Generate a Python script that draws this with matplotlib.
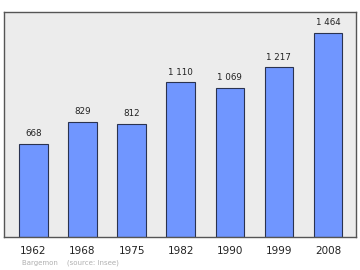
import matplotlib
matplotlib.use('Agg')
import matplotlib.pyplot as plt

years = ['1962', '1968', '1975', '1982', '1990', '1999', '2008']
population = [668, 829, 812, 1110, 1069, 1217, 1464]
value_labels = ['668', '829', '812', '1 110', '1 069', '1 217', '1 464']

fig = plt.figure(figsize=(3.6, 2.7), dpi=100)
ax = fig.add_axes([4 / 360, 1 - 237 / 270, 352 / 360, 225 / 270])
ax.set_facecolor('#ececec')

x = range(len(years))
ax.bar(x, population, width=0.58, color='#7096ff', edgecolor='#2a3350', linewidth=0.8)
for i, (v, lab) in enumerate(zip(population, value_labels)):
    ax.text(i, v + 42, lab, ha='center', va='bottom', fontsize=6.3, color='#222222')

ax.set_xlim(-0.6, 6.57)
ax.set_ylim(0, 1615)
ax.set_xticks(list(x))
ax.set_xticklabels(years, fontsize=7.5, color='#222222')
ax.tick_params(axis='x', length=0, pad=6.5)
ax.set_yticks([])
for s in ax.spines.values():
    s.set_color('#555555')
    s.set_linewidth(1.0)

fig.text(22 / 360, 1 - 263 / 270, 'Bargemon    (source: Insee)', fontsize=5,
         color='#b0b0b0', va='center', ha='left')

fig.savefig('out.png', dpi=100)
